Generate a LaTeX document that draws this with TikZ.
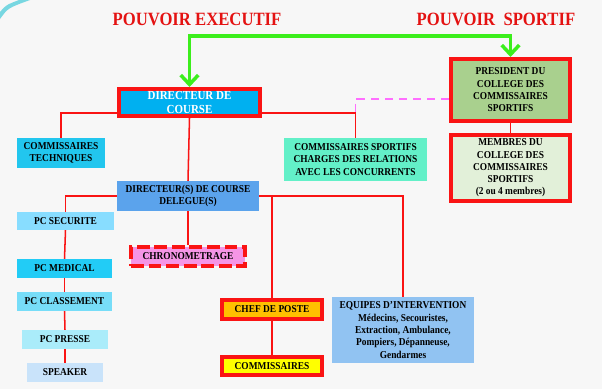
\documentclass[tikz,border=0pt]{standalone}
\usepackage{fontspec}
\setmainfont{Liberation Serif}[FakeStretch=0.89]
\usetikzlibrary{arrows.meta}

\definecolor{chartred}{RGB}{250,20,20}
\definecolor{titlered}{RGB}{228,18,18}
\definecolor{powgreen}{RGB}{60,238,28}
\definecolor{dashpink}{RGB}{255,110,255}
\definecolor{bgcol}{RGB}{247,247,247}
\definecolor{swooshcol}{RGB}{120,215,225}
\definecolor{dircol}{RGB}{0,176,240}
\definecolor{prescol}{RGB}{169,208,142}
\definecolor{membcol}{RGB}{226,240,217}
\definecolor{techcol}{RGB}{34,198,238}
\definecolor{sportcol}{RGB}{99,240,200}
\definecolor{delegcol}{RGB}{91,163,236}
\definecolor{secucol}{RGB}{136,221,255}
\definecolor{medcol}{RGB}{34,204,246}
\definecolor{classcol}{RGB}{119,221,248}
\definecolor{pressecol}{RGB}{170,236,250}
\definecolor{speakcol}{RGB}{201,227,250}
\definecolor{chronocol}{RGB}{245,149,230}
\definecolor{chefcol}{RGB}{255,192,0}
\definecolor{commcol}{RGB}{255,255,0}
\definecolor{equipcol}{RGB}{145,195,242}

\tikzset{
  title/.style={text=titlered, font=\fontsize{16}{18}\selectfont\bfseries},
  box/.style={rectangle, inner sep=1pt, align=center, font=\fontsize{9}{10.5}\selectfont\bfseries},
  redbox/.style={box, draw=chartred, line width=3.4pt},
  chronobox/.style={box, draw=chartred, line width=3.4pt, dash pattern=on 11pt off 4pt},
  redline/.style={draw=chartred, line width=1.3pt},
  powerline/.style={draw=powgreen, line width=3pt, {Straight Barb[length=8pt,width=15pt]}-{Straight Barb[length=8pt,width=15pt]}},
  linkline/.style={draw=dashpink, line width=1.3pt, dash pattern=on 7pt off 5pt}
}

\begin{document}
\begin{tikzpicture}[x=0.03cm, y=-0.03cm]
    % background
    \fill[bgcol] (0,0) rectangle (602,389);
    \fill[swooshcol] (0,19) .. controls (8,8) .. (30,0) -- (19,0) .. controls (6,5) .. (0,12) -- cycle;
    \useasboundingbox (0,0) rectangle (602,389);

    % Titles
    \node[title] (EXEC) at (197,19) {POUVOIR EXECUTIF};
    \node[title] (SPORT) at (496,19) {POUVOIR\ \ SPORTIF};
    \coordinate (TOP) at (0,36);

    % Executive side
    \node[redbox, fill=dircol, text=white, font=\fontsize{10.5}{12.5}\selectfont\bfseries, minimum width=4.23cm, minimum height=0.81cm] (DIR) at (189.5,102.5) {DIRECTEUR DE\\COURSE};
    \node[box, fill=techcol, minimum width=2.64cm, minimum height=0.9cm] (TECH) at (61,153) {COMMISSAIRES\\TECHNIQUES};
    \node[box, fill=sportcol, minimum width=4.29cm, minimum height=1.29cm] (CSR) at (355.5,159.5) {COMMISSAIRES SPORTIFS\\CHARGES DES RELATIONS\\AVEC LES CONCURRENTS};
    \node[box, fill=delegcol, minimum width=4.26cm, minimum height=0.9cm] (DELEG) at (188,196) {DIRECTEUR(S) DE COURSE\\DELEGUE(S)};

    % Sporting side
    \node[redbox, fill=prescol, minimum width=3.57cm, minimum height=1.86cm] (PRES) at (510.5,90) {PRESIDENT DU\\COLLEGE DES\\COMMISSAIRES\\SPORTIFS};
    \node[redbox, fill=membcol, minimum width=3.57cm, minimum height=1.98cm] (MEMB) at (510.5,168) {MEMBRES DU\\COLLEGE DES\\COMMISSAIRES\\SPORTIFS\\(2 ou 4 membres)};

    % PC column
    \node[box, fill=secucol, minimum width=2.91cm, minimum height=0.54cm] (SECU) at (65.5,221) {PC SECURITE};
    \node[box, fill=medcol, minimum width=2.85cm, minimum height=0.57cm] (MED) at (64.5,268.5) {PC MEDICAL};
    \node[box, fill=classcol, minimum width=2.85cm, minimum height=0.57cm] (CLASS) at (64.5,301.5) {PC CLASSEMENT};
    \node[box, fill=pressecol, minimum width=2.58cm, minimum height=0.57cm] (PRESSE) at (65,339.5) {PC PRESSE};
    \node[box, fill=speakcol, minimum width=2.28cm, minimum height=0.57cm] (SPEAK) at (65,372.5) {SPEAKER};

    % Track side
    \node[chronobox, fill=chronocol, minimum width=3.42cm, minimum height=0.57cm] (CHRONO) at (188,256.5) {CHRONOMETRAGE};
    \node[redbox, fill=chefcol, minimum width=3.0cm, minimum height=0.57cm] (CHEF) at (272,309.5) {CHEF DE POSTE};
    \node[redbox, fill=commcol, minimum width=3.0cm, minimum height=0.54cm] (COMM) at (272,366) {COMMISSAIRES};
    \node[box, fill=equipcol, minimum width=4.26cm, minimum height=1.98cm] (EQUIP) at (403,330) {EQUIPES D’INTERVENTION\\Médecins, Secouristes,\\Extraction, Ambulance,\\Pompiers, Dépanneuse,\\Gendarmes};

    % Power link
    \draw[powerline] (DIR.north) -- (DIR.north |- TOP) -| (PRES.north);

    % Red connections
    \coordinate (DIRL) at ([yshift=-0.32cm]DIR.west);
    \coordinate (DIRR) at ([yshift=-0.32cm]DIR.east);
    \draw[redline] (DIRL) -| (TECH.north);
    \draw[redline] (DIRR) -| (CSR.north);
    \draw[redline] (DIR.south) -- (DELEG.north);
    \draw[redline] (PRES.south) -- (MEMB.north);
    \draw[redline] (DELEG.west) -| (SECU.north);
    \draw[redline] (SECU.south) -- (MED.north);
    \draw[redline] (MED.south) -- (CLASS.north);
    \draw[redline] (CLASS.south) -- (PRESSE.north);
    \draw[redline] (PRESSE.south) -- (SPEAK.north);
    \draw[redline] (DELEG.south) -- (CHRONO.north);
    \draw[redline] (DELEG.east) -| (EQUIP.north);
    \draw[redline] (DELEG.east -| CHEF.north) -- (CHEF.north);
    \draw[redline] (CHEF.south) -- (COMM.north);

    % Dashed link
    \draw[linkline] ([yshift=-0.27cm]PRES.west) -| (DIRR -| CSR.north);
\end{tikzpicture}
\end{document}
